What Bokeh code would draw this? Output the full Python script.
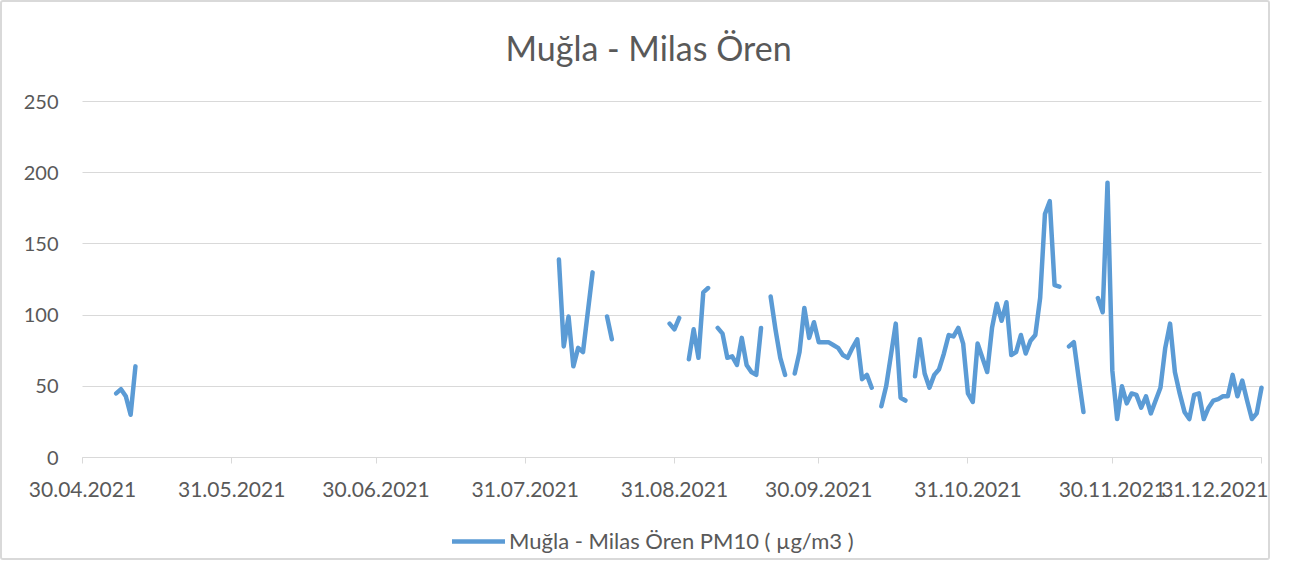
import numpy as np
import pandas as pd
from bokeh.plotting import figure
from bokeh.models import (Range1d, FixedTicker, DatetimeTickFormatter, Legend, LegendItem,
                          ColumnDataSource, Label, Grid)
from bokeh.embed import file_html
from bokeh.resources import INLINE

# ---- data (daily PM10, µg/m3), contiguous measured runs ----
segment_starts = ["2021-05-07", "2021-08-07", "2021-08-17", "2021-08-30", "2021-09-03",
                  "2021-09-09", "2021-09-20", "2021-09-25", "2021-10-13", "2021-10-20",
                  "2021-11-21", "2021-11-27"]
seg_a = [45, 48, 43, 30, 64]
seg_b = [139, 78, 99, 64, 77, 74, 102, 130]
seg_c = [99, 83]
seg_d = [94, 90, 98]
seg_e = [69, 90, 70, 116, 119]
seg_f = [91, 87, 70, 71, 65, 84, 65, 60, 58, 91]
seg_g = [113, 90, 70, 58]
seg_h = [59, 74, 105, 84, 95, 81, 81, 81, 79, 77, 72, 70, 77, 83, 55, 58, 49]
seg_i = [36, 50, 72, 94, 42, 40]
seg_j = [57, 83, 59, 49, 58, 62, 73, 86, 85, 91, 80, 45, 39, 80, 70, 60, 91, 108, 96, 109,
         72, 74, 86, 73, 82, 86, 112, 171, 180, 121, 120]
seg_k = [78, 81, 56, 32]
seg_l = [112, 102, 193, 61, 27, 50, 38, 45, 44, 35, 43, 31, 40, 49, 77, 94, 60, 45, 32, 27,
         44, 45, 27, 35, 40, 41, 43, 43, 58, 43, 54, 40, 27, 31, 49]
segments = [seg_a, seg_b, seg_c, seg_d, seg_e, seg_f, seg_g, seg_h, seg_i, seg_j, seg_k, seg_l]

tick_dates = ["2021-04-30", "2021-05-31", "2021-06-30", "2021-07-31", "2021-08-31",
              "2021-09-30", "2021-10-31", "2021-11-30", "2021-12-31"]
y_ticks = [0, 50, 100, 150, 200, 250]
title_text = "Muğla - Milas Ören"
series_name = "Muğla - Milas Ören PM10 ( µg/m3 )"

# build x/y with NaN breaks between runs
xs, ys = [], []
for start, vals in zip(segment_starts, segments):
    d0 = pd.Timestamp(start)
    for i, v in enumerate(vals):
        xs.append(d0 + pd.Timedelta(days=i))
        ys.append(float(v))
    xs.append(d0 + pd.Timedelta(days=len(vals)))
    ys.append(np.nan)

src = ColumnDataSource(dict(x=xs, y=ys))

FONT = "Lato"
GREY = "#595959"
GRID = "#d9d9d9"
DAY_MS = 86400000.0

# ---- layout: the frame fills the whole canvas; axes sit at fixed locations ----
W, H = 1270, 560                 # content size (2px CSS border around it)
AX_L, AX_R = 80, 1259            # pixel x of first / last date tick
AX_T, AX_B = 99, 455             # pixel y of 250 / 0
x0 = pd.Timestamp(tick_dates[0]).value / 1e6
x1 = pd.Timestamp(tick_dates[-1]).value / 1e6
ms_per_px = (x1 - x0) / (AX_R - AX_L)
u_per_px = (y_ticks[-1] - y_ticks[0]) / (AX_B - AX_T)
x_start = x0 - AX_L * ms_per_px
x_end = x1 + (W - AX_R) * ms_per_px
y_end = y_ticks[-1] + AX_T * u_per_px
y_start = y_ticks[0] - (H - AX_B) * u_per_px


def px_to_data(px, py):
    return x_start + px * ms_per_px, y_end - py * u_per_px


p = figure(width=W, height=H, output_backend="svg", toolbar_location=None,
           x_axis_type="datetime",
           x_range=Range1d(x_start, x_end), y_range=Range1d(y_start, y_end),
           min_border_left=0, min_border_right=0, min_border_top=0, min_border_bottom=0)

p.styles = {"border": "2px solid #d9d9d9", "border-radius": "3px"}
p.outline_line_color = None

r = p.line("x", "y", source=src, line_color="#5b9bd5", line_width=4.5,
           line_cap="round", line_join="round")

# grid
p.xgrid.grid_line_color = None
yg = p.ygrid[0]
yg.grid_line_color = GRID
yg.grid_line_width = 1
yg.bounds = (y_ticks[0], y_ticks[-1])
try:
    yg.cross_bounds = (x0, x1)
except Exception:
    yg.grid_line_color = None
    p.segment(x0=[x0] * len(y_ticks), x1=[x1] * len(y_ticks), y0=y_ticks, y1=y_ticks,
              line_color=GRID, line_width=1)

# x axis at y = 0
tick_ms = [pd.Timestamp(d).value / 1e6 for d in tick_dates]
p.xaxis.fixed_location = 0
p.xaxis.bounds = (x0, x1)
p.xaxis.ticker = FixedTicker(ticks=tick_ms)
fmt = "%d.%m.%Y"
p.xaxis.formatter = DatetimeTickFormatter(
    microseconds=fmt, milliseconds=fmt, seconds=fmt, minsec=fmt, minutes=fmt,
    hourmin=fmt, hours=fmt, days=fmt, months=fmt, years=fmt)
p.xaxis.axis_line_color = GRID
p.xaxis.axis_line_width = 1
p.xaxis.major_tick_line_color = GRID
p.xaxis.major_tick_out = 6
p.xaxis.major_tick_in = 0
p.xaxis.minor_tick_line_color = None
p.xaxis.major_label_text_font = FONT
p.xaxis.major_label_text_font_size = "21px"
p.xaxis.major_label_text_color = GREY
p.xaxis.major_label_standoff = 18

# y axis at the first date
p.yaxis.fixed_location = x0
p.yaxis.bounds = (y_ticks[0], y_ticks[-1])
p.yaxis.ticker = FixedTicker(ticks=y_ticks)
p.yaxis.axis_line_color = None
p.yaxis.major_tick_line_color = None
p.yaxis.minor_tick_line_color = None
p.yaxis.major_tick_out = 0
p.yaxis.major_tick_in = 0
p.yaxis.major_label_text_font = FONT
p.yaxis.major_label_text_font_size = "20px"
p.yaxis.major_label_text_color = GREY
p.yaxis.major_label_standoff = 24

# title
tx, ty = px_to_data(503, 45)
p.add_layout(Label(x=tx, y=ty, text=title_text, text_font=FONT, text_font_size="34px",
                   text_color=GREY, text_align="left", text_baseline="middle"))

legend = Legend(items=[LegendItem(label=series_name, renderers=[r])],
                location=(450, 8), orientation="horizontal",
                glyph_width=53, glyph_height=20, label_standoff=4,
                padding=0, margin=0, border_line_alpha=0, background_fill_alpha=0,
                label_text_font=FONT, label_text_font_size="22px", label_text_color=GREY)
p.add_layout(legend, "center")

open("out.html", "w").write(file_html(p, INLINE))
